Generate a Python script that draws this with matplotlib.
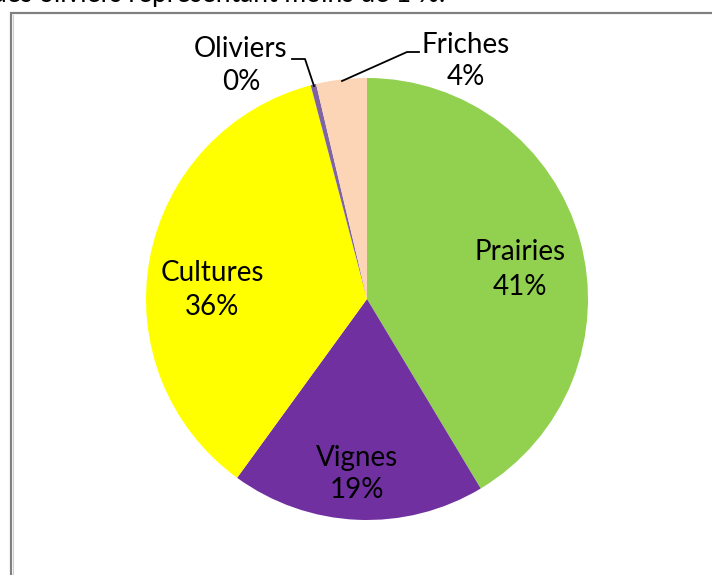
import matplotlib
matplotlib.use("Agg")
import matplotlib.pyplot as plt
from matplotlib.patches import Rectangle
from matplotlib.lines import Line2D

categories = ["Prairies", "Vignes", "Cultures", "Oliviers", "Friches"]
values = [41.4, 18.6, 35.9, 0.4, 3.7]
pct_labels = ["41%", "19%", "36%", "0%", "4%"]
colors = ["#92D050", "#7030A0", "#FFFF00", "#8064A2", "#FBD5B5"]

plt.rcParams['font.family'] = ['Lato', 'DejaVu Sans']

W, H = 712, 575
fig = plt.figure(figsize=(W / 100, H / 100), dpi=100)
fig.patch.set_facecolor("white")

# outer frame (partially cut)
fig.add_artist(Rectangle((10.5 / W, -0.1), 1.2, 1 - 13.5 / H + 0.1, transform=fig.transFigure,
                         fill=False, edgecolor="#808080", linewidth=1.6))
fig.add_artist(Line2D([12.5 / W, 12.5 / W], [0, 1 - 15 / H], transform=fig.transFigure,
                      color="#d0d0d0", linewidth=0.8))

# cut-off text above
fig.text(-8 / W, 1 - 2 / H, "des oliviers représentant moins de 1 %.", fontsize=19,
         ha="left", va="baseline", color="black")

cx, cy, r = 367, 299, 221
ax = fig.add_axes([(cx - r) / W, (H - cy - r) / H, 2 * r / W, 2 * r / H])
ax.pie(values, colors=colors, startangle=90, counterclock=False, radius=1,
       wedgeprops=dict(linewidth=0))
ax.set_xlim(-1, 1)
ax.set_ylim(-1, 1)
ax.set_aspect("equal")
ax.axis("off")

def px(x, y):
    return ((x - cx) / r, (cy - y) / r)

label_pos = {
    "Prairies": (520, 252, 287),
    "Vignes": (357, 458, 490),
    "Cultures": (212, 273, 307),
    "Oliviers": (241, 49, 82),
    "Friches": (466, 45, 77),
}
for cat, pct in zip(categories, pct_labels):
    x, y1, y2 = label_pos[cat]
    ax.text(*px(x, y1), cat, ha="center", va="center", fontsize=20, color="black", clip_on=False)
    ax.text(*px(x, y2), pct, ha="center", va="center", fontsize=20, color="black", clip_on=False)

# leader lines
ol = [px(292, 59), px(305, 59), px(314, 86)]
ax.plot([p[0] for p in ol], [p[1] for p in ol], color="black", lw=1.3, clip_on=False)
fr = [px(342, 81), px(407, 52), px(419, 52)]
ax.plot([p[0] for p in fr], [p[1] for p in fr], color="black", lw=1.3, clip_on=False)

fig.savefig("out.png", dpi=100)
